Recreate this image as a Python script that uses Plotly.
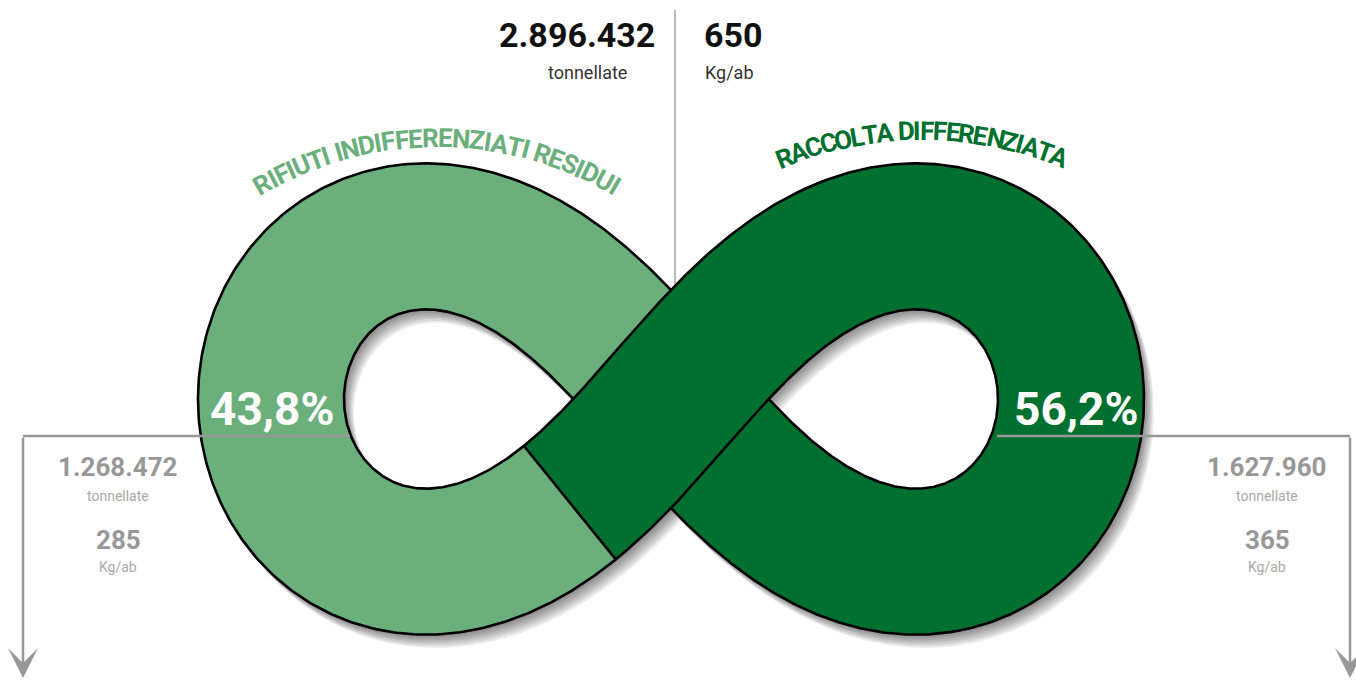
import math

import numpy as np
import plotly.graph_objects as go

# ---- data -------------------------------------------------------------
categories = ["RIFIUTI INDIFFERENZIATI RESIDUI", "RACCOLTA DIFFERENZIATA"]
shares = [43.8, 56.2]
tonnes = [1268472, 1627960]
kg_per_inhabitant = [285, 365]
total_tonnes = 2896432
total_kg = 650
colors = ["#6BAF7C", "#007030"]

# ---- layout constants -------------------------------------------------
W, H = 1356, 680
CX, CY = 671, 399      # crossing point of the ribbon
A = 400                # lemniscate half length (centre line)
SY = 1.15              # vertical stretch of the lemniscate
HW = 73                # half ribbon width
CUT = 145              # arc length from the crossing where the colour changes
FONT = "Roboto, Liberation Sans, Arial, sans-serif"
GREY = "#989898"


def centre(t):
    s, c = math.sin(t), math.cos(t)
    g = 1 + s * s
    return A * c / g, SY * A * s * c / g


def piece(t0, t1, n=400):
    ts = np.linspace(t0, t1, n)
    pts = [centre(t) for t in ts]
    tans = []
    for t in ts:
        p, q = centre(t - 1e-4), centre(t + 1e-4)
        dx, dy = q[0] - p[0], q[1] - p[1]
        L = math.hypot(dx, dy)
        tans.append((dx / L, dy / L))
    return pts, tans


def edges(pc, dx=0, dy=0):
    pts, tans = pc
    a, b = [], []
    for (x, y), (ux, uy) in zip(pts, tans):
        nx, ny = -uy, ux
        a.append((CX + x + HW * nx + dx, CY - (y + HW * ny) + dy))
        b.append((CX + x - HW * nx + dx, CY - (y - HW * ny) + dy))
    return a, b


# parameter where the over strand reaches CUT from the crossing
ts = np.linspace(math.pi / 2, math.pi, 4000)
acc, t_cut = 0.0, ts[-1]
prev = centre(ts[0])
for t in ts[1:]:
    cur = centre(t)
    acc += math.hypot(cur[0] - prev[0], cur[1] - prev[1])
    prev = cur
    if acc >= CUT:
        t_cut = t
        break

t_join = math.pi / 2 - 0.75
light = piece(t_cut, 1.5 * math.pi)
dark_loop = piece(1.5 * math.pi, 2 * math.pi + t_join + 0.05)
dark_over = piece(t_join, t_cut, 200)
shadow_pieces = [light, piece(1.5 * math.pi, 2 * math.pi + t_join), dark_over]

pieces = [(light, colors[0]), (dark_loop, colors[1]), (dark_over, colors[1])]

fig = go.Figure()

# soft drop shadow
for k in range(1, 8):
    for pc in shadow_pieces:
        a, b = edges(pc, 1.4 * k, 1.9 * k)
        poly = a + b[::-1] + [a[0]]
        fig.add_trace(go.Scatter(
            x=[p[0] for p in poly], y=[p[1] for p in poly],
            mode="lines", fill="toself", fillcolor="rgba(0,0,0,0.08)",
            line=dict(width=0), hoverinfo="skip",
        ))

for i, (pc, col) in enumerate(pieces):
    a, b = edges(pc)
    poly = a + b[::-1] + [a[0]]
    fig.add_trace(go.Scatter(
        x=[p[0] for p in poly], y=[p[1] for p in poly],
        mode="lines", fill="toself", fillcolor=col,
        line=dict(width=0), hoverinfo="skip",
    ))
    outline = [a + b[::-1]] if i == 2 else [a, b]
    for ln in outline:
        fig.add_trace(go.Scatter(
            x=[p[0] for p in ln], y=[p[1] for p in ln],
            mode="lines", line=dict(color="black", width=2.6), hoverinfo="skip",
        ))

# ---- arched titles ------------------------------------------------------
# Roboto Bold advance widths (em)
CHAR_W = {"A": .67, "C": .65, "D": .66, "E": .57, "F": .55, "I": .28, "L": .54,
          "N": .71, "O": .69, "R": .63, "S": .61, "T": .60, "U": .64, "Z": .60,
          " ": .25}

annotations = []


def arc_text(text, cx, cy, r, span_deg, size, color):
    widths = [CHAR_W.get(c, .6) for c in text]
    scale = math.radians(span_deg) * r / sum(widths)
    pos = -sum(widths) * scale / 2
    for c, w in zip(text, widths):
        phi = (pos + w * scale / 2) / r
        pos += w * scale
        if c == " ":
            continue
        annotations.append(dict(
            x=cx + r * math.sin(phi), y=cy - r * math.cos(phi),
            text=f"<b>{c}</b>", textangle=math.degrees(phi), showarrow=False,
            xanchor="center", yanchor="middle",
            font=dict(family=FONT, size=size, color=color),
        ))


arc_text(categories[0], 437, 489, 351, 62, 26, colors[0])
arc_text(categories[1], 922, 500, 369, 46, 26, colors[1])


def it_num(v):
    return f"{v:,}".replace(",", ".")


def label(x, y, text, size, color, bold=False, xanchor="center"):
    annotations.append(dict(
        x=x, y=y, text=f"<b>{text}</b>" if bold else text, showarrow=False,
        xanchor=xanchor, yanchor="middle",
        font=dict(family=FONT, size=size, color=color),
    ))


# totals on top
label(657, 35, it_num(total_tonnes), 34, "#111111", bold=True, xanchor="right")
label(587, 72, "tonnellate", 18, "#333333")
label(702, 35, it_num(total_kg), 34, "#111111", bold=True, xanchor="left")
label(729, 72, "Kg/ab", 18, "#333333")

# percentages inside the loops
label(272, 409, f"{shares[0]:.1f}%".replace(".", ","), 46, "white", bold=True)
label(1076, 409, f"{shares[1]:.1f}%".replace(".", ","), 46, "white", bold=True)

# side figures
for xc, t, k in [(118, tonnes[0], kg_per_inhabitant[0]), (1267, tonnes[1], kg_per_inhabitant[1])]:
    label(xc, 467, it_num(t), 26, GREY, bold=True)
    label(xc, 496, "tonnellate", 14, "#A8A8A8")
    label(xc, 540, it_num(k), 26, GREY, bold=True)
    label(xc, 567, "Kg/ab", 14, "#A8A8A8")

# connectors down the sides, from the hole edges
left_edge, right_edge = 350, 997
left_x, right_x = 23, 1350
for x_side in (left_x, right_x):
    annotations.append(dict(
        x=x_side, y=678, ax=x_side, ay=436, axref="x", ayref="y",
        xref="x", yref="y", text="", showarrow=True, arrowhead=3,
        arrowsize=2.0, arrowwidth=2.5, arrowcolor=GREY, standoff=0,
    ))

shapes = [
    dict(type="line", x0=675, x1=675, y0=10, y1=340, layer="below",
         line=dict(color="#A0A0A0", width=1.5)),
    dict(type="line", x0=left_x, x1=left_edge, y0=436, y1=436,
         line=dict(color=GREY, width=2.5)),
    dict(type="line", x0=right_edge, x1=right_x, y0=436, y1=436,
         line=dict(color=GREY, width=2.5)),
]

fig.update_layout(
    width=W, height=H, margin=dict(l=0, r=0, t=0, b=0),
    paper_bgcolor="white", plot_bgcolor="white", showlegend=False,
    xaxis=dict(range=[0, W], visible=False, fixedrange=True),
    yaxis=dict(range=[H, 0], visible=False, fixedrange=True),
    annotations=annotations, shapes=shapes,
)

fig.write_html("out.html", config={"displayModeBar": False},
               post_script="document.body.style.margin = '0px';")
